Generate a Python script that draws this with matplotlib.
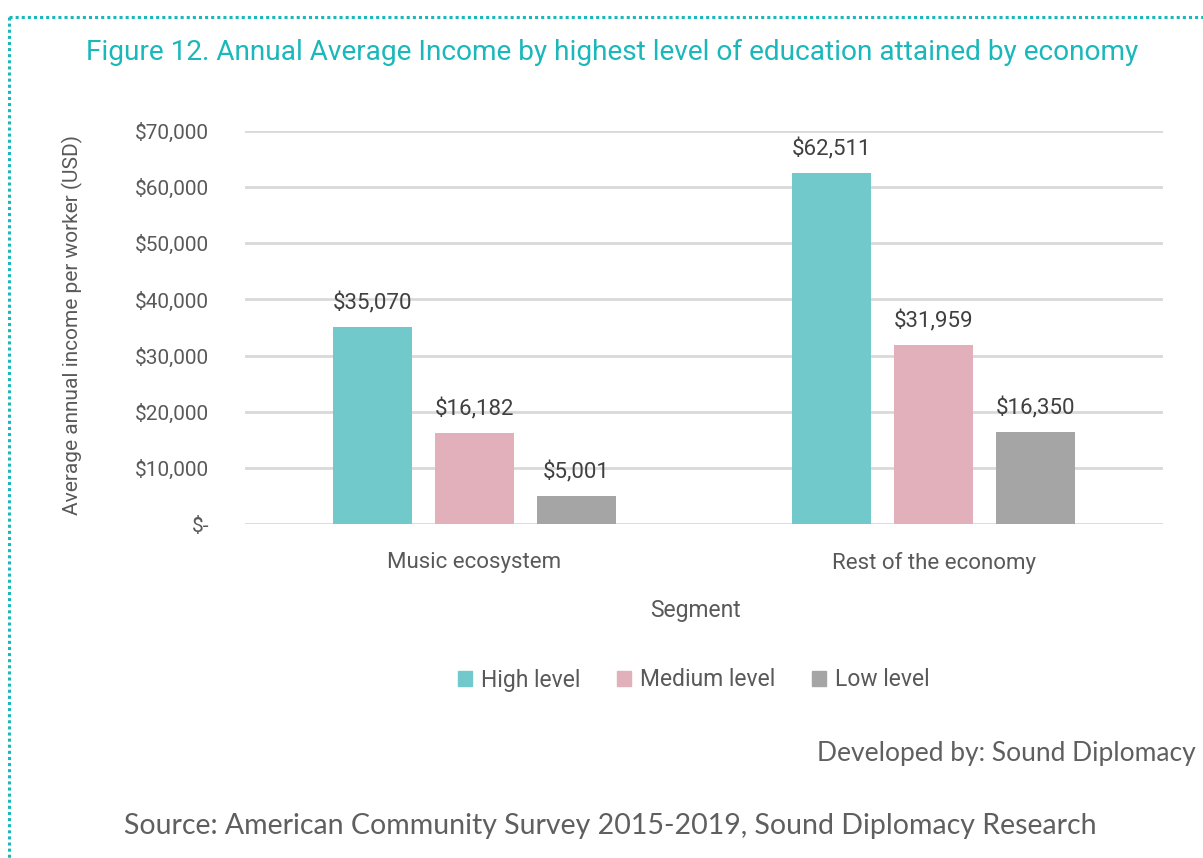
import matplotlib
matplotlib.use("Agg")
import matplotlib.pyplot as plt
from matplotlib.lines import Line2D
import numpy as np

categories = ["Music ecosystem", "Rest of the economy"]
series_names = ["High level", "Medium level", "Low level"]
high = [35070, 62511]
medium = [16182, 31959]
low = [5001, 16350]
series_values = [high, medium, low]
colors = ["#72c9cc", "#e2b0ba", "#a5a5a5"]
yticks = [0, 10000, 20000, 30000, 40000, 50000, 60000, 70000]
ytick_labels = ["$-", "$10,000", "$20,000", "$30,000", "$40,000", "$50,000", "$60,000", "$70,000"]

plt.rcParams['font.family'] = ['Roboto', 'DejaVu Sans']
W, H = 1203, 858
fig = plt.figure(figsize=(W / 100, H / 100), dpi=100)
ax = fig.add_axes([245 / W, 1 - 524 / H, (1163 - 245) / W, (524 - 131) / H])

x = np.arange(len(categories))
step = 0.222
width = 0.172
tc = "#595959"
for i, (name, vals, c) in enumerate(zip(series_names, series_values, colors)):
    pos = x + (i - 1) * step
    ax.bar(pos, vals, width=width, color=c, label=name, zorder=3)
    for p, v in zip(pos, vals):
        ax.annotate(f"${v:,}", (p, v), xytext=(0, 9), textcoords="offset points",
                    ha="center", va="bottom", fontsize=16, color="#404040")

ax.set_xlim(-0.5, 1.5)
ax.set_ylim(0, 70000)
ax.set_yticks(yticks)
ax.set_yticklabels(ytick_labels, fontsize=15, color=tc)
ax.set_xticks(x)
ax.set_xticklabels(categories, fontsize=16, color=tc)
ax.tick_params(axis="both", length=0)
ax.tick_params(axis="y", pad=26)
ax.tick_params(axis="x", pad=20)
for s in ax.spines.values():
    s.set_visible(False)
ax.grid(axis="y", color="#d9d9d9", linewidth=2, zorder=0)
ax.set_axisbelow(True)

fig.text(72 / W, 1 - 325 / H, "Average annual income per worker (USD)", rotation=90,
         ha="center", va="center", fontsize=15, color=tc)
fig.text(695 / W, 1 - 610 / H, "Segment", ha="center", va="center", fontsize=16.5, color=tc)

fig.text(612 / W, 1 - 52 / H,
         "Figure 12. Annual Average Income by highest level of education attained by economy",
         ha="center", va="center", fontsize=20.2, color="#1ab8bb")

handles = [plt.Rectangle((0, 0), 1, 1, color=c) for c in colors]
leg = fig.legend(handles, series_names, loc="center", bbox_to_anchor=(694 / W, 1 - 680 / H),
                 ncol=3, frameon=False, fontsize=16.5, handlelength=0.6, handleheight=0.6,
                 handletextpad=0.4, columnspacing=1.6)
for t in leg.get_texts():
    t.set_color(tc)

fig.text(1196 / W, 1 - 754 / H, "Developed by: Sound Diplomacy", ha="right", va="center",
         fontsize=19, color="#5f5f5f", family=["Lato", "DejaVu Sans"])
fig.text(610 / W, 1 - 826 / H, "Source: American Community Survey 2015-2019, Sound Diplomacy Research",
         ha="center", va="center", fontsize=20.5, color="#5f5f5f", family=["Lato", "DejaVu Sans"])

# dotted border
border_color = "#1ab8bb"
fig.add_artist(Line2D([9 / W, 1.0], [1 - 17 / H, 1 - 17 / H], transform=fig.transFigure,
                      color=border_color, linestyle=(0, (1, 1)), linewidth=2.2))
fig.add_artist(Line2D([9 / W, 9 / W], [1 - 17 / H, 0.0], transform=fig.transFigure,
                      color=border_color, linestyle=(0, (1, 1)), linewidth=2.2))

fig.savefig("out.png", dpi=100)
